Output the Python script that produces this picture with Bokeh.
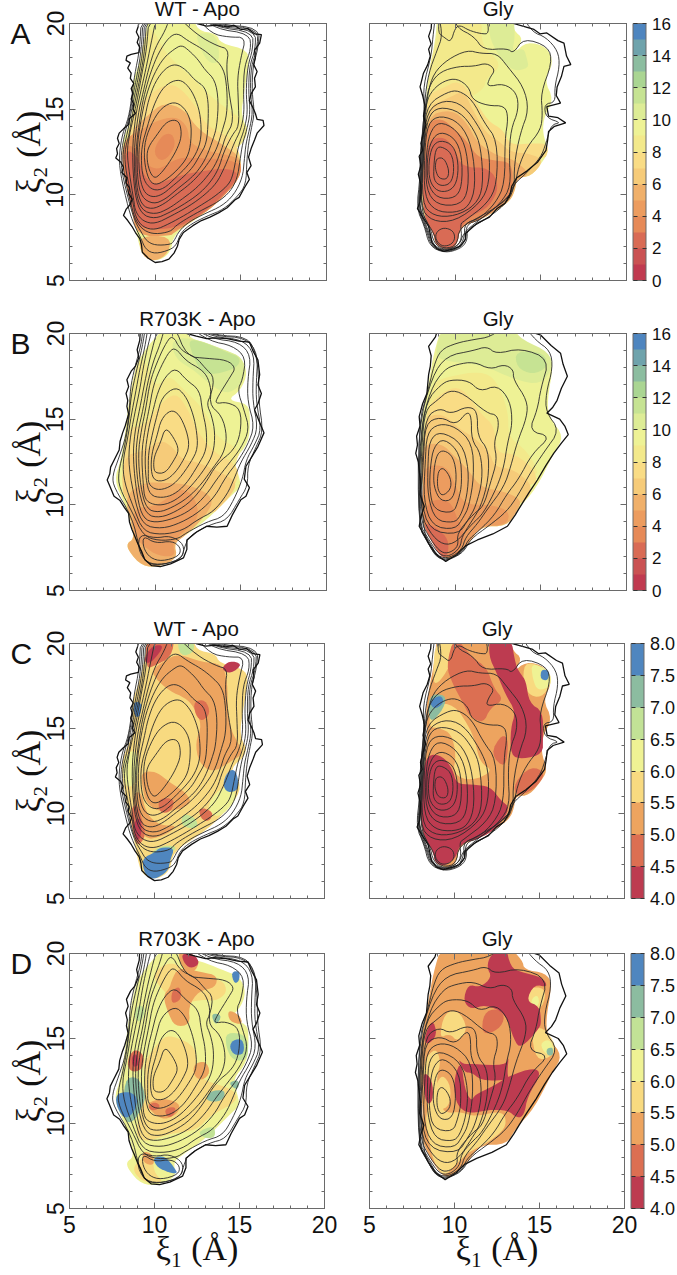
from bokeh.embed import file_html
from bokeh.resources import INLINE
from bokeh.plotting import figure
from bokeh.layouts import column, row
from bokeh.models import (ColumnDataSource, LinearColorMapper, ColorBar, FixedTicker, Title,
                          LinearAxis, NumeralTickFormatter, CustomLabelingPolicy, AllLabels)

PALETTE_16 = ['#C03A50','#CA5253','#D96B55','#E68A58','#EC9C5F','#F0B06A','#F6CB79','#F9DC85',
              '#F3E98B','#EEF295','#DDEC96','#C6E393','#AAD592','#8CBDA0','#6FA3AC','#4E85BF']
PALETTE_8 = ['#BD3B50','#DC6F52','#EDA45F','#F8DA80','#EFF294','#C2E296','#8CBCA0','#4F86BF']
TICKS_16 = [0,2,4,6,8,10,12,14,16]
TICKS_8 = [4.0,4.5,5.0,5.5,6.0,6.5,7.0,7.5,8.0]
AXIS_TICKS = [5,10,15,20]
MINOR_TICKS = list(range(5,21))

# ---- free-energy contours (xi1, xi2), inner to outer ----
WT_APO_OUTER = [(9.15,20.5),(9.0,19.8),(8.9,19.5),(9.05,19.2),(8.95,18.9),(9.1,18.6),(9.05,18.3),(8.6,18.2),(8.35,18.1),(8.3,17.85),(8.55,17.7),(8.4,17.4),(8.6,17.1),(8.55,16.8),(8.75,16.5),(8.6,16.2),(8.7,15.9),(8.6,15.6),(8.75,15.3),(8.7,15.0),(8.85,14.75),(8.5,14.45),(8.45,14.1),(8.15,13.85),(7.9,13.6),(7.8,13.3),(7.9,13.0),(7.75,12.7),(7.8,12.4),(7.7,12.15),(8.0,11.9),(8.15,11.6),(8.05,11.3),(8.35,11.0),(8.3,10.7),(8.5,10.4),(8.45,10.1),(8.65,9.75),(8.55,9.45),(8.3,9.15),(8.15,8.8),(8.4,8.5),(8.65,8.15),(8.85,7.8),(9.1,7.45),(9.2,7.1),(9.25,6.65),(9.6,6.3),(10,6.05),(10.4,6.1),(10.8,6.25),(11.1,6.6),(11.3,7.0),(11.4,7.4),(11.65,7.8),(12.2,8.2),(12.7,8.5),(13.2,8.7),(13.7,8.95),(14.2,9.25),(14.65,9.7),(14.9,9.85),(15.2,10.4),(15.5,10.9),(15.35,11.3),(15.6,11.7),(15.45,12.2),(15.6,12.7),(15.8,13.2),(15.95,13.6),(16.35,14.05),(16.3,14.35),(15.95,14.4),(15.85,14.75),(15.7,15.1),(15.5,15.5),(15.6,15.9),(15.85,16.3),(15.8,16.8),(15.95,17.2),(15.75,17.6),(15.85,18.0),(15.8,18.45),(16.1,18.85),(16.2,19.35),(15.8,19.4),(15.4,19.7),(15.0,19.65),(14.6,19.9),(14.2,19.8),(13.6,19.9),(13.0,19.85),(12.45,20),(12.3,20.5)]
WT_APO_LINES = [
 [(9.65,11.4),(9.5,12.2),(9.6,12.8),(10.1,13.5),(10.6,14.2),(11.1,14.4),(11.45,14.2),(11.55,13.4),(11.25,12.6),(10.8,11.85),(10.3,11.2),(9.95,10.95)],
 [(9.35,12.0),(9.4,13.2),(9.9,14.4),(10.4,15.1),(11.1,15.45),(11.7,15.1),(12.1,14.3),(12.1,13.1),(11.9,12.2),(11.3,11.45),(10.6,10.85),(10.0,10.55),(9.6,10.9)],
 [(9.2,11.5),(9.2,12.8),(9.55,14.0),(9.9,15.2),(10.4,16.2),(11.0,16.65),(11.55,16.7),(12.05,16.2),(12.4,15.5),(12.65,14.6),(12.7,13.3),(12.4,12.4),(11.9,11.7),(11.2,11.0),(10.5,10.35),(9.9,10.25),(9.4,10.7)],
 [(9.05,11.3),(9.05,13.0),(9.4,14.5),(9.6,15.5),(10.0,16.6),(10.6,17.4),(11.2,17.65),(11.8,17.3),(12.3,16.7),(12.9,16.3),(13.1,15.5),(13.1,14.3),(13.0,13.0),(12.6,12.3),(12.2,11.6),(11.6,11.0),(11.0,10.5),(10.4,10.0),(9.8,9.85),(9.3,10.2)],
 [(8.95,11.0),(8.95,13.0),(9.25,14.8),(9.5,15.9),(9.95,17.1),(10.5,18.0),(11.1,18.5),(11.55,18.75),(12.0,18.4),(12.5,17.9),(12.9,17.3),(13.5,16.7),(13.7,15.5),(13.6,14.0),(13.4,13.3),(13.0,12.2),(12.5,11.4),(12.0,10.9),(11.3,10.35),(10.6,9.75),(9.9,9.45),(9.2,9.85)],
 [(8.9,10.5),(8.85,12.5),(9.15,14.8),(9.4,16.0),(9.75,17.2),(10.2,18.3),(10.8,19.2),(11.3,19.45),(11.9,19.0),(12.7,18.55),(13.3,18.1),(14.0,17.4),(14.2,16.2),(14.2,14.7),(13.9,13.7),(13.6,12.7),(13.2,12.0),(12.6,11.2),(12.0,10.6),(11.2,10.0),(10.5,9.45),(9.8,9.15),(9.2,9.4)],
 [(8.85,10.2),(8.75,12.5),(9.0,14.7),(9.3,16.0),(9.6,17.3),(10.0,18.6),(10.6,19.6),(10.9,20.5),(11.2,20.5),(12.5,19.3),(13.6,18.7),(14.3,18.5),(14.15,17.5),(14.3,16.0),(14.6,14.3),(14.1,13.4),(13.9,12.7),(13.5,11.7),(12.9,10.9),(12.3,10.3),(11.5,9.7),(10.8,9.2),(10.0,8.85),(9.2,9.1)],
 [(8.8,10),(8.65,12.5),(8.85,14.6),(9.15,16),(9.45,17.3),(9.75,18.8),(10.1,20.5),(12.3,20.5),(13.3,19.4),(14.3,19.2),(15.3,19.2),(15.0,18.0),(14.8,16.8),(14.85,15.5),(14.9,14.0),(14.5,13.5),(14.0,12.5),(13.7,11.5),(13.2,10.7),(12.5,10.0),(11.6,9.4),(10.8,8.95),(10.0,8.6),(9.2,8.85)],
 [(8.75,9.7),(8.5,11.2),(8.35,12.5),(8.5,13.5),(8.75,14.6),(9.0,15.8),(9.25,17.2),(9.5,18.5),(9.65,20.5),(12.6,20.5),(13.5,19.7),(15.5,19.4),(15.6,18.5),(15.2,17.5),(15.15,16),(15.2,14.8),(15.0,13.8),(14.6,13.0),(14.3,12.2),(14.0,11.5),(13.6,10.7),(12.9,10.0),(12.0,9.35),(11.0,8.8),(10.0,8.3),(9.3,8.45),(8.85,9.0)],
 [(8.7,9.6),(8.3,11.3),(8.2,12.5),(8.5,13.6),(8.65,14.6),(8.9,15.8),(9.15,17.0),(9.4,18.5),(9.5,20.5),(12.5,20.5),(13.5,19.8),(15.7,19.5),(15.7,18.5),(15.4,17.5),(15.3,16),(15.4,14.8),(15.2,13.8),(14.9,13.0),(14.7,12.0),(14.5,11.0),(14.2,10.5),(13.4,9.85),(12.6,9.35),(11.8,8.85),(10.8,8.3),(10.0,7.95),(9.3,8.1),(8.85,8.7)],
 [(8.6,9.4),(8.15,11.3),(8.1,12.5),(8.4,13.7),(8.55,14.6),(8.8,15.8),(9.05,17),(9.3,18.5),(9.4,20.5),(12.4,20.5),(13.5,19.85),(15.85,19.6),(15.85,18.5),(15.5,17.5),(15.45,16),(15.55,14.8),(15.35,13.8),(15.1,13),(14.95,12),(14.8,11.0),(14.4,10.2),(13.7,9.6),(12.8,9.15),(11.9,8.65),(11.2,8.2),(10.9,7.85),(10.0,7.7),(9.35,7.9),(8.85,8.5)],
 [(8.55,9.3),(8.05,11.3),(8.0,12.4),(8.25,13.7),(8.5,14.6),(8.7,15.8),(8.95,17),(9.2,18.5),(9.3,20.5),(12.4,20.5),(13.6,19.9),(16.0,19.7),(15.95,18.5),(15.6,17.5),(15.55,16),(15.7,14.8),(15.5,13.8),(15.3,13),(15.2,12),(15.1,11),(14.6,10),(13.9,9.35),(12.9,8.9),(12.0,8.45),(11.4,7.9),(11.1,7.3),(10.9,7.1),(10,7.05),(9.5,7.3),(9.2,7.8),(8.85,8.4)],
 [(8.45,9.15),(7.95,11.3),(7.9,12.4),(8.1,13.6),(8.45,14.5),(8.65,15.8),(8.8,17),(9.1,18.5),(9.2,20.5),(12.35,20.5),(13.7,19.95),(16.1,19.75),(16.0,18.5),(15.7,17.5),(15.65,16),(15.8,14.8),(15.6,13.8),(15.45,13),(15.35,12),(15.3,10.6),(14.8,9.9),(14.0,9.15),(13.0,8.75),(12.1,8.3),(11.5,7.8),(11.25,7.1),(10.9,6.8),(10,6.55),(9.45,6.8),(9.15,7.5),(8.75,8.3)],
]
R703K_APO_OUTER = [(9.15,20.5),(9.1,19.6),(8.95,19.05),(9.05,18.6),(8.85,18.1),(8.6,17.8),(8.35,17.3),(8.45,16.9),(8.3,16.5),(8.4,16.1),(8.35,15.75),(8.45,15.3),(8.25,14.6),(8.1,14.2),(7.95,13.7),(7.9,13.2),(7.6,12.6),(7.4,12.2),(7.35,11.8),(7.2,11.45),(7.35,11.1),(7.6,10.5),(7.95,10.25),(8.2,9.85),(8.45,9.5),(8.5,9.0),(8.65,8.55),(8.8,8.2),(9.0,7.7),(9.2,7.3),(9.4,6.8),(9.8,6.45),(10.3,6.4),(10.9,6.55),(11.65,6.9),(11.85,7.4),(11.85,7.95),(12.4,8.4),(13,8.75),(13.6,8.7),(14.2,8.75),(14.5,9.4),(15,10.3),(15.3,10.5),(15.5,11),(15.2,11.5),(15.3,12.25),(15.7,12.9),(16.0,13.4),(16.35,14.2),(16.1,14.8),(15.8,15.55),(16.0,15.9),(16.2,16.5),(16.0,17.0),(16.1,17.6),(16,18.45),(15.7,19.0),(15.5,19.5),(14.9,19.55),(14.2,19.7),(13.5,19.75),(13,19.7),(12.4,19.85),(11.85,20),(11.8,20.5)]
R703K_APO_LINES = [
 [(9.9,12.25),(9.95,12.85),(10.3,13.6),(10.6,14.55),(11.1,13.9),(11.4,13.2),(11.1,12.6),(10.6,11.85),(10.0,11.85)],
 [(9.75,12),(9.8,13),(10.1,14),(10.35,15),(10.9,15.55),(11.4,15.3),(11.85,14.3),(12.0,13.4),(11.7,12.7),(11.2,11.9),(10.6,11.4),(9.95,11.4)],
 [(9.6,11.9),(9.6,13),(9.85,14.2),(10.1,15.2),(10.4,16.3),(11.2,16.9),(11.75,16.4),(12.15,15.5),(12.4,14.5),(12.5,13.3),(12.1,12.5),(11.4,11.5),(10.8,11),(10.1,10.85),(9.6,11.2)],
 [(9.45,11.5),(9.4,13),(9.6,14.4),(9.85,15.4),(10.15,16.6),(10.6,17.5),(11.2,18),(11.8,17.3),(12.6,16.7),(12.75,15.5),(13.0,14.4),(13.0,13.2),(12.5,12.3),(11.8,11.2),(11.1,10.6),(10.4,10.4),(9.7,10.55)],
 [(9.3,11.2),(9.2,13),(9.4,14.4),(9.65,15.6),(9.9,17),(10.35,18.1),(10.85,19.0),(11.2,19.15),(11.8,18.4),(12.7,17.9),(13.1,17.4),(13.3,16.5),(13.0,15.9),(13.3,15.2),(13.5,14.2),(13.4,13),(12.9,12.1),(12.2,11.2),(11.4,10.4),(10.6,10.0),(9.9,10.0),(9.4,10.3)],
 [(9.15,11.0),(9.0,13),(9.2,14.4),(9.45,15.6),(9.7,17.2),(10.1,18.3),(10.55,19.3),(11,19.95),(11.5,19),(12.4,18.6),(12.9,18),(13.5,17.4),(13.1,15.9),(13.9,15.2),(14.2,14.0),(14.0,13),(13.4,12.2),(12.7,11.2),(11.9,10.4),(11.0,9.85),(10.2,9.55),(9.5,9.75)],
 [(9.05,10.7),(8.85,12.8),(9.0,14.3),(9.3,15.6),(9.55,17.1),(9.9,18.4),(10.3,19.4),(10.6,20.5),(11.1,20.5),(11.85,18.65),(13,18.55),(14.2,18.45),(14.7,18),(14.4,17.5),(13.65,16.3),(13.5,15.9),(14.2,16),(15,15.6),(15,14.2),(14.6,13.2),(13.6,12.4),(12.9,11.2),(12.1,10.2),(11.2,9.6),(10.3,9.25),(9.5,9.4)],
 [(8.95,10.4),(8.7,12.7),(8.8,14.2),(9.1,15.6),(9.4,17.2),(9.7,18.6),(10.2,20.5),(11.8,20.5),(13.2,19.55),(14.5,19.3),(15.3,18.6),(15.1,17.3),(14.8,16.7),(15.2,15.5),(15.5,14.4),(15.0,13.3),(14.3,12.4),(13.6,11.5),(13.0,10.6),(12.1,9.7),(11.1,9.2),(10.0,8.95),(9.3,9.2)],
 [(8.85,10.1),(8.45,12.2),(8.5,13.7),(8.8,15.3),(9.1,16.7),(9.3,18),(9.6,19.4),(9.9,20.5),(11.9,20.5),(13.3,19.7),(14.9,19.5),(15.6,18.7),(15.4,17.3),(15.4,16),(15.8,14.6),(15.4,13.5),(14.8,12.5),(14.1,11.6),(13.5,10.5),(12.6,9.6),(11.5,8.95),(10.4,8.6),(9.3,8.8)],
 [(8.75,9.8),(8.2,11.3),(8.1,12.5),(8.4,13.9),(8.6,15.2),(8.85,16.5),(9.1,17.9),(9.4,19.2),(9.6,20.5),(11.9,20.5),(13.4,19.8),(15.1,19.65),(15.8,18.8),(15.7,17.3),(15.7,16),(16,14.5),(15.6,13.5),(15,12.5),(14.6,11.5),(14.2,10.6),(13.4,9.6),(12.5,9.15),(11.6,8.5),(10.4,8.25),(9.3,8.45)],
 [(8.7,9.5),(7.9,11),(7.85,11.9),(8.2,13.3),(8.45,14.8),(8.6,16.4),(8.9,17.8),(9.25,19.2),(9.45,20.5),(11.9,20.5),(13.5,19.85),(15.3,19.75),(16,18.8),(15.9,17.2),(15.9,16),(16.2,14.4),(15.8,13.5),(15.3,12.6),(15.1,11.5),(14.6,10.3),(14,9.3),(13,9.0),(11.8,8.35),(11.3,8.0),(10.2,7.9),(9.3,8.2)],
 [(9.3,8.2),(10,7.75),(11,7.9),(11.5,7.5),(11.4,7.0),(10.4,6.7),(9.7,6.9),(9.3,7.5)],
 [(9.1,8.3),(10,8.05),(10.9,8.2),(11.7,7.7),(11.6,6.9),(10.5,6.5),(9.5,6.6),(9.0,7.4)],
 [(8.65,9.3),(7.6,11),(7.5,11.7),(7.9,12.8),(8.3,14),(8.5,15.5),(8.55,16.8),(8.8,18),(9.2,19.4),(9.3,20.5),(11.85,20.5),(13.5,19.9),(15.4,19.8),(15.9,18.8),(16.05,17.3),(16.05,16),(16.3,14.3),(15.9,13.4),(15.4,12.3),(15.4,11.1),(14.9,10.3),(14.2,9.1),(13.2,8.85),(12,8.2),(11.7,7.5),(11.55,6.85),(10.5,6.5),(9.5,6.55),(9.1,7.4)],
]
WT_GLY_OUTER = [(8.65,20.5),(8.6,19.7),(8.45,19.25),(8.6,18.8),(8.45,18.5),(8.55,18.1),(8.4,17.6),(8.15,17.1),(8.05,16.7),(7.95,16.3),(8.1,15.8),(8.25,15.15),(8.15,14.6),(8.3,14.1),(8.15,13.6),(8.0,13.0),(8.1,12.6),(7.9,12.25),(8.0,11.7),(7.85,11.2),(8.0,10.6),(8,10.1),(7.95,9.6),(7.8,9.2),(8.05,8.8),(8.45,8.15),(8.55,7.7),(8.65,7.2),(8.95,6.85),(9.35,6.7),(9.9,6.85),(10.3,7),(10.6,7.4),(10.6,7.75),(11.3,8.35),(12.0,8.7),(12.45,9.2),(12.9,9.5),(13.2,10.0),(13.3,10.5),(13.6,11.0),(14.2,11.4),(14.8,11.9),(15.3,12.6),(15.4,13.2),(15.45,13.7),(15.8,14.0),(16.45,14.2),(16.0,14.5),(15.45,14.6),(15.35,15.15),(16.15,15.35),(15.9,15.8),(15.95,16.3),(16.2,16.9),(16.35,17.5),(16.75,17.6),(16.5,18.1),(16.35,18.85),(16.0,19.0),(15.35,19.45),(14.95,19.4),(14.6,19.65),(14.1,19.8),(13.4,20),(13.3,20.5)]
WT_GLY_LINES = [
 [(8.85,11.85),(8.95,12.15),(9.35,12.15),(9.65,11.45),(9.55,10.9),(9.05,10.95),(8.85,11.45)],
 [(8.75,11.65),(8.85,12.65),(9.15,12.85),(9.8,12.45),(9.95,11.45),(9.75,10.65),(9.15,10.5),(8.75,10.85)],
 [(8.45,11.85),(8.65,12.85),(9.15,13.2),(9.9,12.9),(10.2,11.85),(10.1,10.7),(9.65,10.2),(8.95,10.2),(8.5,10.8)],
 [(8.35,12.05),(8.6,13.2),(9.15,13.7),(10,13.3),(10.4,12.25),(10.4,10.5),(10,9.8),(8.95,9.8),(8.4,10.6)],
 [(8.3,12.25),(8.5,13.6),(9.05,14.3),(10.1,13.8),(10.7,12.6),(10.8,10.3),(10.3,9.4),(8.95,9.4),(8.3,10.3)],
 [(8.2,12.35),(8.4,14.2),(9.15,14.65),(10.3,14.2),(11,12.8),(11.2,10.5),(10.8,9.3),(10,8.95),(8.85,9.05),(8.2,9.9)],
 [(8.15,12.6),(8.4,14.55),(9.05,15.15),(10.3,14.85),(11.1,13.8),(11.5,12.8),(11.65,10.5),(11.2,9.4),(10,8.75),(8.75,8.75),(8.05,9.5)],
 [(8.15,12.8),(8.35,14.9),(9.35,15.55),(10.5,15.25),(11.5,13.8),(12.0,12.6),(12.0,10.7),(11.5,9.55),(10,8.45),(8.65,8.45),(7.95,9.3)],
 [(9.35,8.1),(9.9,7.9),(10,7.4),(9.7,7.05),(9.2,7.0),(8.85,7.4),(8.9,7.85)],
 [(8.15,13.6),(8.4,15.3),(9.55,16.0),(10.2,16.1),(11,15.55),(11.7,14.2),(12.45,13.2),(12.45,10.65),(11.9,9.5),(10.5,8.45),(10.3,8.3),(10.4,7.4),(10,6.9),(9.3,6.75),(8.7,7.1),(8.4,8),(7.9,9.2),(8.0,11)],
 [(8.3,15.4),(8.7,16.15),(9.35,16.65),(10.1,16.8),(10.8,16.3),(11,15.55),(11.9,15.2),(12.9,15.2),(13.1,14.5),(12.9,13.2),(12.9,10.65),(12.35,9.5),(11.4,8.6),(10.55,8.35),(10.55,7.5),(10.2,6.9),(9.35,6.7),(8.65,7.05),(8.35,8),(7.85,9.2),(8.05,11),(8.1,13.5)],
 [(8.3,15.55),(8.55,16.5),(9.15,17.2),(10.2,17.5),(11.1,17.5),(11.85,17.7),(12.35,17.3),(12,16.8),(11.85,16.3),(12.85,16.5),(13.6,15.95),(13.7,14.95),(13.25,13.8),(13.15,12.25),(13.25,10.5),(12.65,9.5),(11.5,8.55),(10.65,8.3),(10.65,7.4),(10.2,6.85),(9.35,6.65),(8.6,7.0),(8.3,8),(7.8,9.2),(8.0,11),(8.05,13.5)],
 [(8.25,14.5),(8.4,15.95),(8.75,17.1),(9.55,17.9),(10.7,18.45),(11.5,18.25),(12.45,18.25),(13.05,17.5),(14,16.3),(14.3,14.95),(13.8,13.6),(13.45,11.85),(13.45,10.3),(12.9,9.4),(11.6,8.45),(10.7,8.0),(10.7,7.3),(10.3,6.85),(9.4,6.6),(8.5,7.0),(8.2,8.2),(7.75,9.2),(7.95,11),(8.0,13)],
 [(9.05,20.5),(9.25,19.25),(8.95,18.45),(8.45,17.1),(8.2,15.4),(8.2,13.5),(8.1,11.3),(8,9.8),(8.15,8.7),(8.8,7.7),(8.9,7.15),(9.4,6.85),(10.1,7.05),(10.25,8.1),(11.5,8.75),(12.6,9.4),(13.45,10.3),(13.7,11.65),(14.2,12.8),(15,13.8),(15.1,14.75),(15,15.95),(15.65,17.7),(15.45,18.65),(14,19.15),(13.4,18.25),(13.05,18.55),(11.65,18.45),(11.1,19.25),(10.1,19.75),(9.9,20.5)],
 [(9.1,20.5),(9.0,19.45),(9.35,19.2),(9.75,18.9),(10,19.75),(10.3,19.9),(10.8,19.6),(11.5,19.4),(12,19.4),(11.8,20.5)],
 [(8.85,20.5),(8.7,19.2),(8.6,18.1),(8.15,16.4),(8.2,15.1),(8.1,13.5),(7.95,12.2),(7.95,10.1),(7.9,9.2),(8.55,8.1),(8.75,7.2),(9.35,6.75),(10.25,7.05),(10.5,7.8),(11.3,8.45),(12.4,9.3),(13.1,9.8),(13.4,10.6),(14.2,11.3),(15.0,12.2),(15.3,13.0),(15.6,14.1),(16.2,14.2),(15.3,14.5),(15.2,15.3),(15.85,15.4),(15.8,16.3),(16.1,17.5),(16.0,18.4),(15.3,19.2),(14.5,19.5),(13.9,20.5)],
]
R703K_GLY_OUTER = [(9.05,20.5),(8.85,19.8),(8.45,19.25),(8.6,18.7),(8.55,18.1),(8.45,17.6),(8.35,16.5),(8.1,15.9),(7.9,15.15),(7.95,14.6),(7.75,14.0),(7.8,13.5),(7.7,13),(7.85,12.5),(7.9,12),(8,11.25),(7.95,10.6),(8.2,9.9),(8.0,9.3),(7.9,8.75),(8.15,8.3),(8.45,7.75),(8.9,7.1),(9.45,6.7),(10.1,7.1),(10.6,7.6),(11.3,7.95),(12.2,8.3),(13.05,8.75),(13.5,9.4),(13.8,9.9),(14.3,10.7),(14.8,11.45),(15.3,12.3),(15.75,13),(16.2,13.6),(16.6,14.1),(16.4,14.6),(16.1,15),(15.35,15.35),(15.7,15.7),(15.95,16.1),(16.2,16.8),(16.55,17.5),(16.3,18.2),(16.15,18.85),(15.6,19.3),(15,19.9),(14.7,20),(14.7,20.5)]
R703K_GLY_LINES = [
 [(8.95,11.45),(9.05,12.05),(9.35,12.15),(9.75,11.55),(9.75,10.9),(9.25,10.5),(9,10.85)],
 [(8.75,12.05),(8.95,13),(9.35,13.2),(9.9,12.8),(10.1,11.65),(9.9,10.3),(9.15,10.2),(8.75,11.05)],
 [(8.55,12.25),(8.75,13.4),(9.35,13.9),(10.3,13),(10.4,11.25),(10.2,10.3),(9.9,9.5),(8.75,9.7),(8.5,10.9)],
 [(8.4,12.25),(8.5,13.8),(9.15,14.3),(10.4,13.6),(10.8,12.05),(10.7,10.5),(10.3,9.3),(9.9,8.95),(8.85,9.1),(8.4,10.5)],
 [(8.25,12.45),(8.35,14.2),(9.05,14.75),(10.05,14.55),(11.0,13.6),(11.1,11.65),(10.8,9.9),(10.5,9.3),(10,8.55),(8.65,8.75),(8.15,10.3)],
 [(8.15,12.6),(8.25,14.75),(9.15,15.15),(10.05,14.65),(10.7,15.45),(10.95,15.15),(10.95,13.8),(11.5,13),(11.6,11.45),(11.2,9.9),(10.8,9.2),(10.2,8.25),(8.5,8.5),(8,10.3)],
 [(8.1,13),(8.3,15.15),(9.1,15.65),(9.75,15.3),(10.7,15.75),(11.3,15.5),(11.3,14),(11.95,13.2),(11.95,11.5),(11.5,9.9),(11,9.1),(10.3,8.0),(9.5,7.6),(8.7,8.1),(7.95,9.5)],
 [(8.05,13.5),(8.25,15.55),(8.95,16.1),(9.65,16.7),(10.5,16.5),(11.85,15.35),(12.45,15.25),(12.55,14.55),(12.25,13.6),(12.45,12.6),(12.05,11.25),(11.65,9.9),(11.1,9.5),(10.1,8.35),(10.2,7.6),(9.7,7.2),(9.2,7.2),(8.6,7.9),(7.9,9.2)],
 [(8.0,14),(8.35,16.1),(9.15,17),(9.7,17.3),(10.8,17.25),(11.45,16.6),(12.45,17),(13.2,16.1),(13.35,14.75),(13.05,13.6),(12.85,12.25),(12.45,11.05),(11.65,9.5),(11.0,8.9),(10.4,8.2),(10.3,7.5),(9.7,7.0),(9.1,7.05),(8.5,7.9),(7.85,9)],
 [(7.95,14.3),(8.55,16.7),(9.35,17.9),(10.1,18.2),(11.1,18.35),(12.05,17.9),(12.85,18.2),(13.4,17.9),(13.4,17.3),(14.2,16.1),(14.2,15.15),(13.6,13.6),(13.25,12.25),(12.85,11.05),(11.85,9.7),(11.3,8.9),(10.6,8.1),(10.4,7.4),(9.7,6.9),(9,6.95),(8.45,7.9),(7.85,8.8)],
 [(7.85,14.5),(8.65,17.5),(9.5,18.7),(11.05,19),(11.85,19.25),(12.4,18.8),(13.85,19.15),(15.5,18.5),(15,16.8),(14.8,15.55),(14.3,14.3),(15.6,14.0),(14.5,13),(13.7,11.5),(13,10.6),(12.3,9.4),(11.4,8.5),(10.7,7.9),(10.5,7.3),(9.75,6.85),(8.95,6.85),(8.4,7.8),(7.85,8.75)],
 [(7.8,14.5),(8.5,17),(8.75,18.1),(9.15,19.05),(10.1,19.45),(11.1,19.65),(12.05,19.8),(13,20.5),(14.0,20.5),(14.7,19.6),(15.55,19),(15.7,18),(15.3,16.5),(15.3,15.4),(16.1,14.35),(15.2,13.1),(14.4,11.9),(13.7,10.6),(13,9.6),(12,8.8),(10.9,8.0),(10.5,7.25),(9.8,6.85),(9.2,6.75),(8.5,7.5),(8.1,8.8)],
]

# ---- edges of the filled area ----
WT_APO_EDGE = [(9.55,20.5),(9.5,19.5),(9.15,17.9),(8.65,16.5),(8.7,15.5),(8.85,14.8),(8.05,13.2),(8.15,11.65),(8.65,9.3),(8.95,7.55),(9.25,6.4),(10.1,6.1),(10.9,6.6),(11.1,7.75),(12.65,8.75),(13.6,9.5),(15,11.05),(15,12.05),(14.4,12.6),(15.55,13.6),(15,14.6),(15.2,16),(15.45,17.5),(15.45,18.45),(13.8,18.85),(13.6,19.4),(12.45,19.6),(12.25,20.5)]
R703K_APO_EDGE = [(10.7,20.5),(9.55,19.25),(8.95,18.3),(8.75,17.5),(8.45,15.95),(8.3,14.55),(8,12.6),(7.6,11.45),(8.2,10.1),(8.65,8.75),(8.75,8),(8.35,7.75),(8.45,7.3),(9.25,6.4),(10.3,6.4),(11.3,6.9),(11.1,7.75),(11.65,8.15),(13,9.1),(14.4,10.5),(15,11.05),(14.9,11.65),(14.6,12.6),(15.45,13.6),(15.55,14.95),(15.45,15.9),(14.2,16.1),(15,16.7),(15.4,17.7),(15,18.65),(14.2,18.95),(13,19.45),(12.05,19.7),(11.5,20.5)]
WT_GLY_EDGE = [(8.95,20.5),(8.85,19.05),(8.45,17.1),(8.3,15.75),(8.4,14.6),(8.25,13.2),(8.05,11.25),(8,9.7),(8.15,8.75),(8.75,7.75),(8.85,7.1),(9.45,6.8),(10.1,7),(10.3,8.15),(11.5,8.55),(12.45,9.1),(13.25,9.7),(13.5,10.3),(13.6,11.05),(14.4,11.05),(15.2,12.05),(15.45,12.6),(15.1,13.6),(15.2,14.6),(15.75,15.55),(15.2,16.7),(15.75,17.7),(15.35,18.65),(14.2,18.95),(13.4,18.25),(14.0,19.1),(13.4,19.6),(13.25,20.5)]
R703K_GLY_EDGE = [(9.25,20.5),(8.75,18.85),(8.45,17.1),(8.15,15.55),(8,14.6),(7.95,12.6),(8.15,10.7),(8.05,9.1),(8.55,8),(9.35,6.8),(10,7),(10.8,7.75),(11.5,8.75),(13.05,8.75),(13.6,9.7),(14.7,10.9),(15.75,13),(16.35,14),(15.55,15),(15.35,15.95),(15.75,18.25),(15.35,18.85),(14.1,19.05),(14,19.6),(13.1,20.5)]

# ---- coloured regions: (value, outline), painted in order ----
PANEL_A_LEFT = [
 (9.5,WT_APO_EDGE),
 (8.5,[(8.7,15),(9,17),(9.4,19.5),(9.8,19.8),(10.6,18.3),(11.3,17.6),(12.2,16.8),(13.5,15.5),(15,14.5),(15.5,13.5),(14.5,12.4),(8,12)]),
 (10.5,[(12.45,19.45),(13.6,19.4),(13.8,17.7),(13.05,17.7),(12.45,19.0)]),
 (7.5,[(8.7,14.9),(9.6,15.8),(10.5,16.4),(11.3,16.4),(12.3,15.3),(13,14),(14.5,13.3),(15,12.3),(15,11.2),(8,11)]),
 (5.5,[(8.4,13.5),(9.5,14.6),(10.5,15.4),(11.7,15),(12.5,13.8),(14,12.9),(15,12.2),(15,11),(13.5,9.5),(8.5,9)]),
 (4.5,[(8.1,13.2),(9.2,13.8),(10,14.3),(11.2,14.6),(11.9,14),(12,13),(13.2,12.5),(15,12.2),(15,11),(13.6,9.5),(12.6,8.75),(11.1,7.8),(10.9,7.6),(8.9,7.6),(8.6,9.3),(8.1,11.5)]),
 (3.5,[(8.1,13.0),(9,12.7),(9.5,12),(9.7,11.6),(10.3,11.5),(11.2,12.1),(12,12.2),(15,12.0),(15,11),(13.6,9.5),(12.6,8.75),(11.1,7.8),(9,7.8),(8.6,9.3),(8.1,11.5)]),
 (2.5,[(8.3,12.7),(9,12.2),(9.4,11),(10,10.6),(10.6,10.8),(12,11.3),(14.5,11.6),(14.9,11),(13.6,9.6),(12.6,8.8),(11.1,8.0),(9,8.0),(8.6,9.3),(8.2,11.5)]),
 (3.5,[(9.9,12.6),(10.4,13.5),(11,13.6),(11.2,12.9),(10.7,12.1),(10.2,12)]),
 (5.5,[(9,7.6),(10.9,7.6),(10.8,6.6),(10,6.1),(9.25,6.4)]),
]
PANEL_A_RIGHT = [
 (9.5,WT_GLY_EDGE),
 (10.5,[(12.2,20.5),(13.4,20.5),(13.5,19.2),(13.3,18.3),(14,18.6),(14.2,17.9),(14.3,17.4),(13.4,17.2),(12.6,18),(11.9,19.4)]),
 (8.5,[(8.4,17),(8.9,19),(9.1,20.5),(11.6,20.5),(11.5,18.7),(12.8,17.6),(11.8,16.8),(11.7,16.2),(10.6,15.5),(8.5,15)]),
 (7.5,[(8.3,15.8),(9.2,16.2),(10.2,16.7),(11,15.8),(11.9,14.3),(12.8,13.8),(13.2,12.9),(14.4,13),(15.3,13),(15.45,12.6),(15.2,12),(8.1,11.5)]),
 (6.5,[(8.3,15.1),(9.5,15.6),(10.5,16.1),(11,15),(11.8,13.6),(12.6,13.1),(13.2,12.5),(14.4,12.4),(15.2,12),(14.4,11.05),(13.6,11.05),(8.1,11.05)]),
 (5.5,[(8.3,14.6),(9.8,15),(10.7,14.2),(11.3,13),(12.6,12.2),(13.4,12.1),(14.4,11.2),(13.6,10.9),(13.5,10.3),(13.25,9.7),(12.45,9.1),(11.5,8.55),(10.3,8.15),(8.15,8.75),(8.05,11.25)]),
 (3.5,[(8.3,14.2),(9.2,14.5),(10,13.8),(10.8,13),(11.3,12.2),(12.3,12),(13.3,11.9),(13.4,10.5),(13,9.7),(12.45,9.2),(11.5,8.55),(10.3,8.15),(10.1,7),(9.45,6.8),(8.85,7.1),(8.75,7.75),(8.15,8.75),(8.05,11.25)]),
 (2.5,[(8.4,13.2),(9.4,13.4),(10,12.6),(10.4,11.6),(12,11.6),(12.6,10.5),(12,9.3),(11,8.8),(10.3,8.2),(10.1,7),(9.45,6.8),(8.85,7.1),(8.75,7.75),(8.15,8.75),(8.1,11)]),
]
PANEL_B_LEFT = [
 (9.5,R703K_APO_EDGE),
 (10.5,[(10.9,19.6),(12,19.8),(14.2,19),(15.1,18.6),(15.3,17.5),(14.7,16.7),(14,16.5),(13,17.2),(12.2,17.9),(11.2,18.5)]),
 (11.5,[(11.9,19.7),(13,19.45),(14.2,18.9),(15,18.6),(14.8,18),(13.5,17.6),(12.7,17.7),(12.2,18.7)]),
 (8.5,[(8.45,15.9),(8.75,17.5),(9,18.4),(9.4,18.5),(10,16.8),(10.8,17.6),(11.6,16.8),(13,15.4),(13.5,14),(15,13.2),(14.7,12.5),(14.6,11.5),(8,11.5)]),
 (7.5,[(8.3,14.5),(9.4,14.6),(10.2,15.8),(11.2,16.6),(11.9,15.6),(12.5,14.2),(13.5,13),(14.7,12.4),(14.9,11.5),(14,10.3),(8,10.5)]),
 (6.5,[(8,12.8),(9.5,13.2),(10.3,13.8),(11,13.4),(11.6,12.6),(12.5,12.5),(14,11.8),(14.8,11.3),(14.4,10.5),(13,9.1),(8.2,9.5)]),
 (5.5,[(8.2,10.5),(9.3,11.3),(10.5,11.3),(12,11.2),(13.5,10.4),(12.9,9.3),(11.7,8.15),(11.1,7.75),(11.3,6.9),(10.3,6.4),(9.25,6.4),(8.45,7.3),(8.35,7.75),(8.75,8),(8.65,8.75)]),
 (4.5,[(8.7,9.8),(9.9,9.9),(10.6,10.3),(11.5,11),(12.3,10.5),(12.6,9.2),(11.5,8.3),(11,7.8),(11.2,7),(10.2,7),(9.3,7.6),(8.75,8.2)]),
]
PANEL_B_RIGHT = [
 (9.5,R703K_GLY_EDGE),
 (10.5,[(9.3,20.5),(12.9,20.5),(14,19.6),(15.5,18.9),(15.7,18),(15,17),(13.5,17.3),(11.5,18.2),(9.2,18.4),(8.8,18.9)]),
 (11.5,[(13.5,19),(15.2,18.9),(15.4,18),(14.5,17.6),(13.6,18)]),
 (8.5,[(8.4,17),(9.6,17.5),(11.5,17.8),(12.4,17.3),(13.1,15.5),(13.1,14),(14,13.3),(14.6,12.5),(14.9,11.5),(8.1,11)]),
 (7.5,[(8.15,15.5),(9.4,16.7),(10.4,16.9),(11.5,15.3),(12.3,14.6),(12.4,13),(13.5,13),(14.8,11.9),(14.6,10.9),(8.15,11)]),
 (6.5,[(8.1,15),(9.2,15.4),(10.3,14.4),(11,14),(12,13.1),(12.3,12.2),(13.4,12.1),(14.7,11.0),(13.6,9.7),(8.1,10)]),
 (5.5,[(8,13.5),(9.2,13.6),(10,12.8),(10.8,12),(11.5,11),(12.8,10.8),(13.9,10.3),(13.6,9.6),(13,8.75),(11.5,8.75),(10.8,7.75),(8.55,8),(8.1,11)]),
 (4.5,[(8.2,12.3),(9.5,12.3),(10,11.2),(10.5,10),(12.2,10),(13.2,9.6),(13,8.8),(11.5,8.8),(10.8,7.75),(10,7),(9.35,6.8),(8.55,8),(8.05,9.1),(8.1,11)]),
 (3.5,[(8.5,10.3),(9.7,10.3),(10.2,9),(10.6,8.3),(10.2,7.2),(9.4,6.8),(8.55,8),(8.05,9.1)]),
 (2.5,[(8.1,9),(9,8.6),(9.6,8),(9.6,7.1),(9.2,6.85),(8.55,8)]),
]
PANEL_C_LEFT = [
 (5.75,WT_APO_EDGE),
 (6.25,[(8.1,13.2),(8.9,13.9),(9.1,12.5),(8.7,11.5),(8.2,11.7)]),
 (6.25,[(13,10.5),(14.2,11.8),(15,11),(13.7,9.6)]),
 (5.25,[(9.8,18.4),(10.6,19),(11.4,19.4),(12.8,18.9),(14,18.8),(14.3,17.7),(14.3,16.0),(14.5,14.9),(15,14),(15.2,13.5),(14.4,13),(13.4,12.4),(12.6,13),(12.4,14.2),(12.8,15.2),(12.3,16.3),(11.8,16.8),(10.9,17.2),(10.2,17.8)]),
 (5.25,[(9.2,12.3),(9.3,11.5),(9.5,10.6),(10.5,10),(12.2,10.5),(11.9,11.2),(10.8,11.9),(10.2,12.4),(9.6,12.5)]),
 (5.25,[(8.6,11),(9.2,11.4),(9.5,10),(10.3,9.3),(11.4,9.3),(10.6,8.7),(9.3,8.4)]),
 (4.75,[(12.3,16.6),(13,16.7),(13.3,15.9),(12.8,15.4),(12.4,15.8)]),
 (4.75,[(9.5,20.5),(11.2,20.5),(11,19.2),(10,18.7),(9.5,18.5)]),
 (4.75,[(8.6,10.3),(9,10.6),(9.3,9.5),(9.5,8.7),(9,8),(8.7,9)]),
 (4.75,[(10.2,10.9),(11.2,10.9),(11,10.1),(10.3,10)]),
 (4.75,[(12.6,10.4),(13.5,10.1),(13.2,9.5),(12.7,9.7)]),
 (4.25,[(9.4,19.2),(9.9,19.9),(10.6,19.9),(9.95,19),(9.5,18.8)]),
 (4.25,[(13.9,18.5),(14.4,19),(15.2,18.8),(14.5,18.2)]),
 (4.25,[(8.75,9.5),(9.2,9.8),(9.25,8.7),(8.9,8.3)]),
 (6.75,[(9.8,7.7),(10.4,8.1),(11.3,8.1),(11.1,7.7),(10,7.5)]),
 (6.75,[(11.6,10),(12.4,9.8),(12.6,9.1),(11.6,9.2)]),
 (6.75,[(11.3,20.5),(12.2,20.5),(12.4,19.5),(11.5,19.2)]),
 (7.75,[(9.35,7.4),(10,7.7),(10.3,8.0),(11.2,8),(10.9,7.2),(10.8,6.6),(10,6.1),(9.5,6.35),(9.3,6.9)]),
 (7.75,[(8.75,16.6),(9.3,16.5),(9.1,15.6),(8.8,15.8)]),
 (7.75,[(14.3,12.5),(14.8,12.6),(15.0,11.4),(14.3,11.2),(14,11.7)]),
]
PANEL_C_RIGHT = [
 (5.25,WT_GLY_EDGE),
 (5.75,[(8.9,20.5),(10.9,20.5),(10,19.7),(9.7,18.6),(9,17.6),(8.7,17.8)]),
 (5.75,[(8.4,15.1),(8.8,16.5),(10,16.4),(10.8,15.2),(11.2,14.3),(11.5,13),(12.3,12.5),(11,11.9),(9.9,12.3),(10.1,13.5),(9.8,14.7),(9.2,15)]),
 (5.75,[(14.2,19),(15.6,18.4),(15.7,17.6),(15.1,16.8),(14.3,17),(14,18)]),
 (6.25,[(14.5,18.9),(15.6,18.4),(15.7,17.5),(14.9,17.2),(14.6,17.9)]),
 (7.25,[(8.45,17),(9.5,17),(9.4,16.2),(8.5,15.2)]),
 (7.75,[(15.1,18.5),(15.6,18.4),(15.5,17.8),(15.05,17.9)]),
 (7.75,[(8.5,16.6),(9.2,17),(9.4,16.5),(8.8,16.1)]),
 (4.75,[(10,20.5),(11,19.2),(11.9,18.6),(12.3,17.4),(12.9,16.7),(12.1,16.2),(11.7,15.3),(10.9,15.7),(10.5,16.5),(9.9,17.6),(9.5,18.7)]),
 (4.75,[(13.5,11.8),(14.5,12.8),(15.4,12.4),(14.7,11.4),(13.6,11)]),
 (4.75,[(12.1,13.5),(12.8,14.7),(13.2,14.3),(13,12.6)]),
 (4.25,[(12.1,20.5),(13.3,20.5),(13.6,18.7),(13.9,18.2),(14.2,17.8),(14.4,16.5),(15.2,16),(15.2,14.5),(15.2,13.5),(14,13.2),(13.3,13.4),(13.3,15),(13.6,16),(13,17),(12.5,18.2),(12,19.3)]),
 (4.25,[(8.1,12.2),(8.4,13.5),(9.3,13.4),(9.9,12.6),(10.1,11.75),(11,11.7),(12.1,11.6),(12.7,10.8),(13.3,10.3),(12.45,9.1),(11.5,8.55),(10.3,8.2),(10.1,7.4),(9.4,6.9),(8.85,7.1),(8.75,7.75),(8.15,8.75),(8,10)]),
]
PANEL_D_LEFT = [
 (6.25,R703K_APO_EDGE),
 (5.75,[(9.3,13.5),(10.4,15),(11,15.2),(12.5,14.5),(12.4,13),(13,12.5),(14.7,12),(14.9,11.3),(13.3,10.5),(12.5,9.6),(10.9,9.4),(9.5,8.9),(8.85,9.3),(9.2,10.8),(9.5,12.6)]),
 (5.75,[(9.8,18.8),(11,19.6),(12,18.8),(14,18.5),(14.3,17.7),(13.6,17.2),(12.8,17.3),(11.5,17),(10.5,17.8)]),
 (5.75,[(9.0,7.8),(10,8.3),(9.9,7.2),(10.6,6.5),(9.4,6.5),(8.7,7.2)]),
 (5.25,[(11,18.4),(11.4,19.2),(12.8,18.9),(13.7,18.7),(13.6,18),(12.6,17.8),(12,16.9),(12.1,15.8),(11.2,15.7),(10.8,16.5),(10.5,17.5),(10.9,18)]),
 (5.25,[(12.3,13.5),(13,13.7),(13.3,13),(12.8,12.5),(12.3,12.8)]),
 (5.25,[(9.5,11.2),(10.5,11.5),(11.5,11.2),(11.4,10.6),(10.6,10.2),(9.9,10.6)]),
 (5.25,[(9.3,8.4),(9.9,8.2),(10,7.5),(9.3,7.7)]),
 (5.25,[(14.3,16.7),(15,16.4),(15.2,15.8),(14.4,16)]),
 (5.25,[(11.4,20.5),(12.7,19.6),(12.3,18.8),(11.5,19.2)]),
 (4.75,[(8.5,14),(8.9,14.4),(9.4,14),(9.3,13.2),(8.7,13),(8.4,13.4)]),
 (4.75,[(11,17.8),(11.5,18.1),(11.6,17.3),(11,17)]),
 (4.75,[(9.6,11.0),(10,11.3),(10.4,11),(9.9,10.7)]),
 (4.75,[(10.6,10.9),(11.3,11),(11.1,10.4),(10.7,10.4)]),
 (4.25,[(8.65,14),(9.0,14.1),(9.1,13.4),(8.7,13.3)]),
 (4.25,[(11.6,20),(12.3,20),(12.7,19.4),(12.1,19.1),(11.7,19.5)]),
 (7.25,[(8.2,12.6),(9,12.8),(9.5,11.7),(9.3,11),(8.7,10),(8.2,10.2)]),
 (6.75,[(14.2,15.4),(15.5,15.2),(15.5,13.7),(14.6,13.7),(14.2,14.5)]),
 (6.75,[(9,17),(9.5,16.8),(9.2,15.9),(8.8,16.2)]),
 (7.25,[(13.3,16.5),(14,16.4),(13.6,15.7)]),
 (7.0,[(13.2,11.9),(14.2,12),(14,11.3),(13,11.3)]),
 (6.75,[(12.5,9.5),(13.5,9.9),(13.6,9.2),(13,9.1)]),
 (7.25,[(14.3,12.4),(15,12.6),(14.9,11.9)]),
 (7.75,[(7.7,11.7),(8.4,11.9),(9,11.6),(8.9,10.8),(8.3,10.2),(7.8,10.9)]),
 (7.75,[(9.9,8),(10.6,8.1),(11.1,7.5),(11.4,7),(10.6,7.2),(10.1,7.5)]),
 (7.75,[(14.6,14.9),(15.2,15),(15.3,14.1),(14.7,14),(14.4,14.5)]),
 (7.75,[(14.5,18.9),(15,19),(15,18.4),(14.7,18.2)]),
]
PANEL_D_RIGHT = [
 (5.25,R703K_GLY_EDGE),
 (5.75,[(14.2,18),(15.4,18),(15.2,16.8),(14.4,16.6),(14.1,17.3)]),
 (5.75,[(14.5,15.5),(15.2,15.7),(16,14.6),(15.7,13.9),(14.8,13.7)]),
 (5.75,[(9.4,16.5),(10.2,16.7),(10.8,15.6),(10.2,14.8),(9.7,15.3),(9.1,15)]),
 (5.75,[(8.1,13.6),(8.9,14.5),(9.2,13.6),(8.95,12.8),(9.05,11.6),(9.5,10.6),(8.4,10.4)]),
 (5.75,[(8.2,10.7),(9,11.2),(9.5,10.6),(10.3,10.7),(11.2,10.4),(12.5,10.7),(13,10.5),(13,9.7),(12,8.9),(11,8.4),(10.6,8.1),(10,7.5),(9.4,6.9),(8.9,7.5),(8.6,8.4)]),
 (5.75,[(8.9,12.3),(9.3,12.9),(9.8,12.2),(9.7,11),(9.1,10.8),(8.9,11.3)]),
 (6.25,[(14.5,17.3),(14.9,17.6),(15,17),(14.6,16.8)]),
 (6.25,[(15,14.7),(15.6,15),(15.9,14.2),(15.4,14)]),
 (7.25,[(15.4,14.4),(15.8,14.5),(15.8,14),(15.45,14)]),
 (4.75,[(11.7,16.5),(12.5,16.8),(13,16.3),(12.6,15.5),(11.6,15.2)]),
 (4.25,[(12.1,19.9),(13,20.5),(13.3,19.2),(13.9,18.9),(15.2,18.6),(15.5,18),(14.7,18.2),(14.2,17.2),(15,16.9),(15.1,16),(15,15.6),(13.9,14.4),(13.5,14.9),(13,16.5),(11.8,17),(11,16.7),(10.5,17.2),(10.8,18.2),(11.5,18),(12.2,18.6),(11.9,19.2)]),
 (4.25,[(10.2,13.8),(10.5,13.5),(11,13.5),(13,13.4),(13.2,14),(13.1,13),(13.2,12.6),(12.3,12.5),(11.5,12.6),(11,13),(10.6,13)]),
 (4.25,[(10,12.8),(10.4,13.7),(10.6,12),(11,11.3),(11.2,11.7),(12.3,12.2),(13.2,12.8),(14.7,13.3),(15.1,12.9),(14.3,11.6),(14.1,10.5),(13.7,10.3),(13.1,10.8),(12,10.8),(11,10.6),(10.4,10.8),(10,11.5)]),
 (4.25,[(8.1,13.1),(8.7,12.6),(8.75,11.3),(8.3,11.1)]),
 (4.25,[(8.2,15),(8.7,16.2),(9,15.2),(8.4,14.6)]),
]

TITLES = [('WT - Apo','Gly'),('R703K - Apo','Gly'),('WT - Apo','Gly'),('R703K - Apo','Gly')]
LETTERS = ['A','B','C','D']
XI1, XI2 = 'ξ₁ (Å)', 'ξ₂ (Å)'

def smooth(pts, rounds=2):
    for _ in range(rounds):
        out = []
        n = len(pts)
        for i in range(n):
            a, b = pts[i], pts[(i + 1) % n]
            out.append((0.75*a[0]+0.25*b[0], 0.75*a[1]+0.25*b[1]))
            out.append((0.25*a[0]+0.75*b[0], 0.25*a[1]+0.75*b[1]))
        pts = out
    return pts + [pts[0]]

def panel(regions, lines, outer, mapper, fw, fh, left, right, top, bottom, title, letter=None, show_y=False, show_x=False, bar=None):
    p = figure(frame_width=fw, frame_height=fh, x_range=(5,20), y_range=(5,20), toolbar_location=None,
               output_backend="svg", min_border_left=left, min_border_right=right, min_border_top=top,
               min_border_bottom=bottom, x_axis_location="below", y_axis_location="left")
    p.grid.visible = False
    p.outline_line_color = "#6a6a6a"
    p.background_fill_color = "white"
    p.border_fill_color = None
    smoothed = [smooth(r[1]) for r in regions]
    src = ColumnDataSource(dict(xs=[[q[0] for q in s] for s in smoothed],
                                ys=[[q[1] for q in s] for s in smoothed],
                                level=[r[0] for r in regions]))
    p.patches('xs','ys',source=src,fill_color={"field":"level","transform":mapper},line_color=None)
    sl = [smooth(c) for c in lines]
    p.multi_line([[q[0] for q in s] for s in sl],[[q[1] for q in s] for s in sl],line_color="#2b2b2b",line_width=0.9)
    p.line([q[0] for q in outer],[q[1] for q in outer],line_color="#111111",line_width=1.3)
    p.add_layout(LinearAxis(), "above")
    p.add_layout(LinearAxis(), "right")
    ticker = FixedTicker(ticks=AXIS_TICKS, minor_ticks=MINOR_TICKS)
    for ax in p.axis:
        ax.ticker = ticker
        ax.axis_line_color = "#6a6a6a"
        ax.major_tick_line_color = "#6a6a6a"
        ax.minor_tick_line_color = "#6a6a6a"
        ax.major_tick_in, ax.major_tick_out = 6, 0
        ax.minor_tick_in, ax.minor_tick_out = 3, 0
        ax.major_label_policy = CustomLabelingPolicy(code="return []")
        ax.major_label_standoff = 0
    if show_y:
        ax = p.left[0]
        ax.major_label_policy = AllLabels()
        ax.major_label_text_font_size = "23px"
        ax.major_label_text_font = "Liberation Sans"
        ax.major_label_text_color = "#111111"
        ax.major_label_orientation = "vertical"
        ax.major_label_standoff = 6
        ax.axis_label = XI2
        ax.axis_label_text_font = "Liberation Serif"
        ax.axis_label_text_font_style = "normal"
        ax.axis_label_text_font_size = "34px"
        ax.axis_label_text_color = "#111111"
        ax.axis_label_standoff = -3
    if show_x:
        ax = p.below[0]
        ax.major_label_policy = AllLabels()
        ax.major_label_text_font_size = "23px"
        ax.major_label_text_font = "Liberation Sans"
        ax.major_label_text_color = "#111111"
        ax.major_label_standoff = 7
        ax.axis_label = XI1
        ax.axis_label_text_font = "Liberation Serif"
        ax.axis_label_text_font_style = "normal"
        ax.axis_label_text_font_size = "34px"
        ax.axis_label_text_color = "#111111"
        ax.axis_label_standoff = -6
    p.add_layout(Title(text=title, align="center", standoff=-15, text_font="Liberation Sans", text_font_size="20.5px",
                       text_font_style="normal", text_color="#111111"), "above")
    if letter:
        p.add_layout(Title(text=letter, align="left", offset=-59, standoff=-94, text_font="Liberation Sans",
                           text_font_size="30px", text_font_style="normal", text_color="#111111"), "above")
    if bar:
        m, ticks, fmt, size = bar
        cb = ColorBar(color_mapper=m, ticker=FixedTicker(ticks=ticks), location=(fw+6.5,0), width=13, height=fh,
                      padding=0, margin=0, border_line_color=None, background_fill_color=None,
                      bar_line_color="#6a6a6a", major_tick_line_color="#333333", major_tick_in=13, major_tick_out=0,
                      major_tick_line_dash="4 5", minor_tick_line_color=None, label_standoff=6,
                      major_label_text_font="Liberation Sans", major_label_text_font_size=size,
                      major_label_text_color="#111111", formatter=fmt)
        p.add_layout(cb, "center")
    return p

map16 = LinearColorMapper(palette=PALETTE_16, low=0, high=16)
map8 = LinearColorMapper(palette=PALETTE_8, low=4, high=8)
bar16 = (map16, TICKS_16, NumeralTickFormatter(format="0"), "17px")
bar8 = (map8, TICKS_8, NumeralTickFormatter(format="0.0"), "18px")

TOP_SPACE = 37
rows = [
 (PANEL_A_LEFT,PANEL_A_RIGHT,WT_APO_LINES,WT_APO_OUTER,WT_GLY_LINES,WT_GLY_OUTER,map16,bar16,257,257,19,16),
 (PANEL_B_LEFT,PANEL_B_RIGHT,R703K_APO_LINES,R703K_APO_OUTER,R703K_GLY_LINES,R703K_GLY_OUTER,map16,bar16,257,257,19,16),
 (PANEL_C_LEFT,PANEL_C_RIGHT,WT_APO_LINES,WT_APO_OUTER,WT_GLY_LINES,WT_GLY_OUTER,map8,bar8,255,255,21,18),
 (PANEL_D_LEFT,PANEL_D_RIGHT,R703K_APO_LINES,R703K_APO_OUTER,R703K_GLY_LINES,R703K_GLY_OUTER,map8,bar8,255,255,21,58),
]
layout_rows = []
for i,(rl,rr,ll,ol,lr,orr,m,b,fw,fh,rb,bb) in enumerate(rows):
    pl = panel(rl,ll,ol,m,fw,fh,69,rb,TOP_SPACE,bb,TITLES[i][0],LETTERS[i],True,i==3)
    pr = panel(rr,lr,orr,m,fw,fh,24,677-369-fw,TOP_SPACE,bb,TITLES[i][1],None,False,i==3,b)
    layout_rows.append(row(pl,pr,spacing=0))
page = column(*layout_rows,spacing=0,margin=(-14,0,0,0))
open("out.html","w").write(file_html(page,INLINE))
